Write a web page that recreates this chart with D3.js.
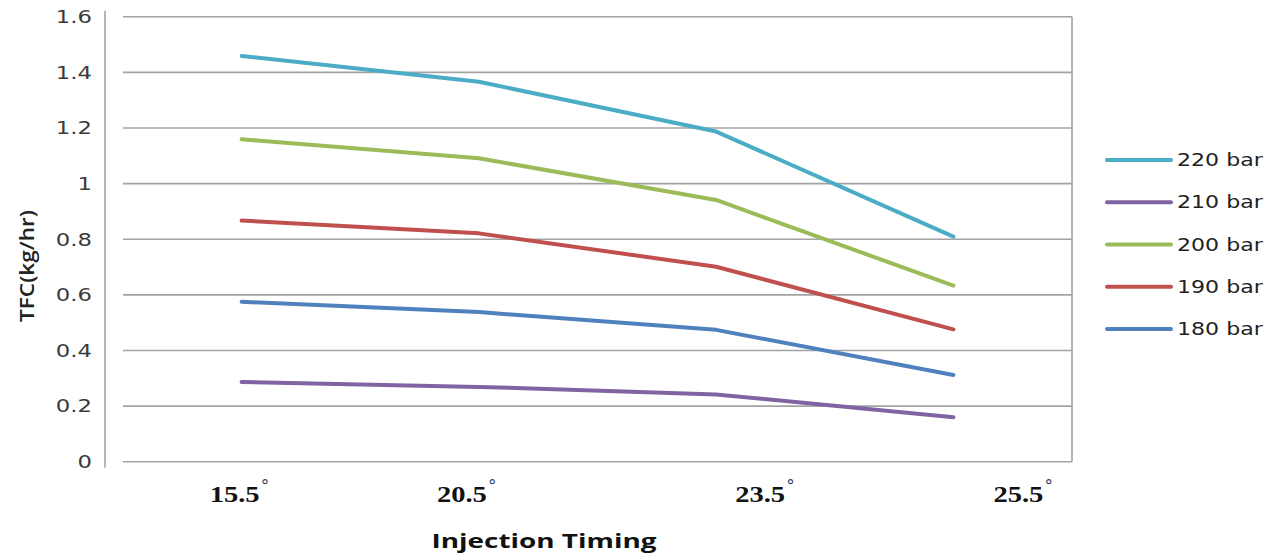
<!DOCTYPE html>
<html>
    <head>
        <meta charset="utf-8">
        <style type="text/css">
            body { margin: 0; background: #fff; }
            svg { display: block; }
        </style>
        <title>TFC vs Injection Timing</title>
    </head>
    <body>
        <svg id='svgZone'></svg>
        <script src="https://cdn.jsdelivr.net/npm/d3@7"></script>
        <script>

// ============ Data ============
var timings = ['15.5', '20.5', '23.5', '25.5'];
var yTicks = [0, 0.2, 0.4, 0.6, 0.8, 1, 1.2, 1.4, 1.6];
var seriesNames = ['220 bar', '210 bar', '200 bar', '190 bar', '180 bar'];

// values at 15.5, 20.5, 23.5 and 25.5 deg (last point is drawn at the 25.5 slot)
var bar220 = [1.459, 1.366, 1.187, 0.809];
var bar210 = [0.287, 0.269, 0.242, 0.160];
var bar200 = [1.159, 1.091, 0.941, 0.633];
var bar190 = [0.867, 0.821, 0.701, 0.476];
var bar180 = [0.575, 0.538, 0.474, 0.312];

// ============ Constants ============
var COLORS = ['#4BACC6', '#8064A2', '#9BBB59', '#C0504D', '#4F81BD'];
var GRID = '#a3a3a3';
var STRETCH = 1.3;   // source picture is widened, so the text is too
var LABEL_NUDGE = [-32, -42, 19, 40];

var W = 1281, H = 553;
var plot = {left: 123, right: 1072, top: 16.7, bottom: 461.7};

var svg = d3.select('#svgZone')
    .attr('width', W)
    .attr('height', H);

// Axis scales
var x = d3.scalePoint()
    .domain(timings)
    .range([plot.left, plot.right])
    .padding(0.5);
var y = d3.scaleLinear()
    .domain([0, 1.6])
    .range([plot.bottom, plot.top]);

// ============ Grid and frame ============
svg.append('g')
    .selectAll('line')
    .data(yTicks)
    .enter()
    .append('line')
        .attr('x1', plot.left)
        .attr('x2', plot.right)
        .attr('y1', d => y(d))
        .attr('y2', d => y(d))
        .attr('stroke', GRID)
        .attr('stroke-width', 1.6);

// right border
svg.append('line')
    .attr('x1', plot.right)
    .attr('x2', plot.right)
    .attr('y1', y(1.6))
    .attr('y2', y(0))
    .attr('stroke', GRID)
    .attr('stroke-width', 1.6);

// left axis line, detached from the grid
svg.append('line')
    .attr('x1', 105)
    .attr('x2', 105)
    .attr('y1', y(1.6) - 6)
    .attr('y2', y(0) + 6)
    .attr('stroke', GRID)
    .attr('stroke-width', 1.6);

// y tick labels
svg.append('g')
    .selectAll('text')
    .data(yTicks)
    .enter()
    .append('text')
        .text(d => d3.format('~g')(d))
        .attr('transform', d => `translate(92, ${y(d)}) scale(${STRETCH}, 1)`)
        .attr('dy', '0.36em')
        .attr('text-anchor', 'end')
        .attr('font-family', 'DejaVu Sans, sans-serif')
        .attr('font-size', 17.5)
        .attr('fill', '#3a3a3a');

// y axis title
svg.append('text')
    .text('TFC(kg/hr)')
    .attr('transform', 'translate(34, 266) rotate(-90)')
    .attr('text-anchor', 'middle')
    .attr('textLength', 112)
    .attr('lengthAdjust', 'spacingAndGlyphs')
    .attr('font-family', 'Open Sans, sans-serif')
    .attr('font-weight', 600)
    .attr('font-size', 19)
    .attr('fill', '#222');

// x tick labels: number plus a raised degree sign
var xl = svg.append('g')
    .selectAll('g')
    .data(timings)
    .enter()
    .append('g')
        .attr('transform', (d, i) => `translate(${x(d) + LABEL_NUDGE[i]}, 502)`);
xl.append('text')
    .text(d => d)
    .attr('textLength', 50)
    .attr('lengthAdjust', 'spacingAndGlyphs')
    .attr('font-family', 'Liberation Serif, serif')
    .attr('font-weight', 'bold')
    .attr('font-size', 23)
    .attr('fill', '#111');
xl.append('text')
    .text('°')
    .attr('x', 51)
    .attr('y', -10)
    .attr('font-family', 'DejaVu Sans, sans-serif')
    .attr('font-size', 17)
    .attr('fill', '#2b3f6b');

// x axis title
svg.append('text')
    .text('Injection Timing')
    .attr('x', 544)
    .attr('y', 548)
    .attr('text-anchor', 'middle')
    .attr('textLength', 225)
    .attr('lengthAdjust', 'spacingAndGlyphs')
    .attr('font-family', 'Open Sans, sans-serif')
    .attr('font-weight', 'bold')
    .attr('font-size', 19)
    .attr('fill', '#111');

// ============ Lines ============
var allSeries = [bar220, bar210, bar200, bar190, bar180];

var line = d3.line()
    .x((d, i) => x(timings[i]))
    .y(d => y(d));

svg.append('g')
    .selectAll('path')
    .data(allSeries)
    .enter()
    .append('path')
        .attr('d', line)
        .attr('fill', 'none')
        .attr('stroke', (d, i) => COLORS[i])
        .attr('stroke-width', 4)
        .attr('stroke-linecap', 'round')
        .attr('stroke-linejoin', 'round');

// ============ Legend ============
var legendY = d3.scalePoint()
    .domain(seriesNames)
    .range([160, 329]);

var legend = svg.append('g')
    .selectAll('g')
    .data(seriesNames)
    .enter()
    .append('g')
        .attr('transform', d => `translate(1107, ${legendY(d)})`);
legend.append('line')
    .attr('x1', 0)
    .attr('x2', 64)
    .attr('stroke', (d, i) => COLORS[i])
    .attr('stroke-width', 4)
    .attr('stroke-linecap', 'round');
legend.append('text')
    .text(d => d)
    .attr('transform', `translate(70, 0) scale(${STRETCH}, 1)`)
    .attr('dy', '0.36em')
    .attr('font-family', 'DejaVu Sans, sans-serif')
    .attr('font-size', 17)
    .attr('fill', '#222');

        </script>
    </body>
</html>
